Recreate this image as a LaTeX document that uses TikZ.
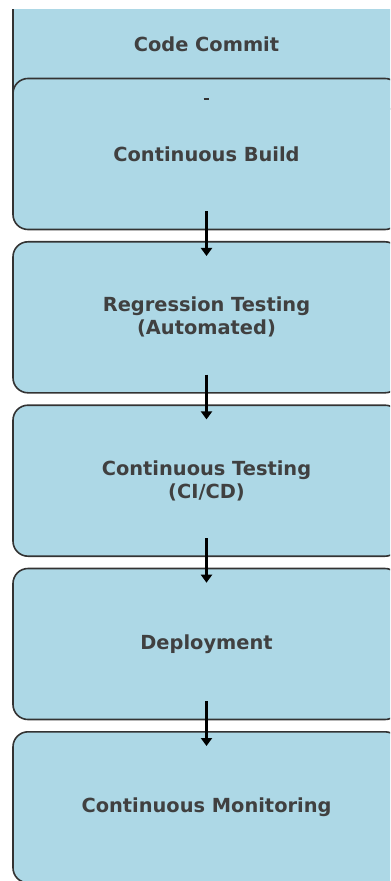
\documentclass[tikz,border=0pt]{standalone}
\usepackage{fontspec}
\setmainfont{DejaVu Sans}
\usetikzlibrary{arrows.meta}
\definecolor{stagefill}{HTML}{ADD8E6}
\definecolor{stageline}{HTML}{333333}
\definecolor{stagetext}{HTML}{404040}

\begin{document}
\begin{tikzpicture}[x=0.5pt,y=-0.5pt,
        stage/.style={draw=stageline, line width=0.8pt, fill=stagefill,
            rounded corners=7.5pt, minimum width=193.5pt, minimum height=75.5pt,
            inner sep=0pt, align=center, text=stagetext,
            font=\fontsize{9.7}{11.5}\selectfont\bfseries},
        flow/.style={-{Triangle[length=4pt,width=5.5pt]}, line width=1.4pt, black}]

        \useasboundingbox (0,0) rectangle (390,881);
        \clip (0,0) rectangle (390,881);

        \begin{scope}
            \clip (0,10) rectangle (390,881);
            \node[stage, minimum height=66pt] (commit) at (206.5,44) {Code Commit};
        \end{scope}

        \node[stage] (build) at (206.5,154) {Continuous Build};
        \node[stage] (regress) at (206.5,317.3) {Regression Testing\\(Automated)};
        \node[stage] (ctest) at (206.5,480.7) {Continuous Testing\\(CI/CD)};
        \node[stage] (deploy) at (206.5,644) {Deployment};
        \node[stage] (monitor) at (206.5,807.3) {Continuous Monitoring};

        \draw[line width=1pt, stageline] ([xshift=-1.5pt,yshift=-10.5pt]build.north) -- ([xshift=1pt,yshift=-10.5pt]build.north);

        \draw[flow] ([yshift=9.5pt]build.south) -- ([yshift=-7.5pt]regress.north);
        \draw[flow] ([yshift=9.5pt]regress.south) -- ([yshift=-7.5pt]ctest.north);
        \draw[flow] ([yshift=9.5pt]ctest.south) -- ([yshift=-7.5pt]deploy.north);
        \draw[flow] ([yshift=9.5pt]deploy.south) -- ([yshift=-7.5pt]monitor.north);

\end{tikzpicture}
\end{document}
